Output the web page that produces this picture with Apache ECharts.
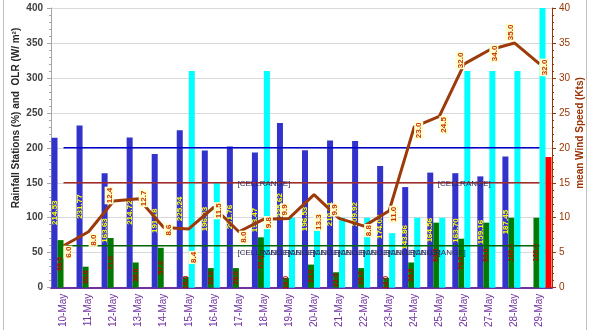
<!DOCTYPE html>
<html>
<head>
<meta charset="utf-8">
<script src="https://cdn.jsdelivr.net/npm/echarts@6/dist/echarts.min.js"></script>
<style>
  html, body { margin: 0; padding: 0; background: #ffffff; }
  #chart { width: 590px; height: 330px; }
</style>
</head>
<body>
<div id="chart"></div>
<script>
// Daily values, 10-May to 29-May
const categories = ['10-May','11-May','12-May','13-May','14-May','15-May','16-May','17-May','18-May','19-May',
                    '20-May','21-May','22-May','23-May','24-May','25-May','26-May','27-May','28-May','29-May'];
// OLR (W/m2)
const olr = [214.53, 231.77, 163.63, 214.72, 191.18, 225.24, 196.03, 201.76, 193.47, 235.62,
             196.53, 210.61, 209.92, 174.03, 143.86, 164.56, 163.70, 159.16, 187.45, null];
// Rainfall stations (%)
const rainStations = [68, 30, 71, 36, 57, 15, 28, 28, 72, 14, 33, 22, 28, 14, 36, 93, 70, 93, 100, 100];
// Second rainfall series (%)
const rainCyan = [0, 0, 0, 0, 0, 310, 150, 0, 310, 100, 100, 100, 100, 78, 100, 100, 310, 310, 310, 420];
// Red series
const redVals = [0, 0, 0, 0, 0, 0, 0, 0, 0, 0, 0, 0, 0, 0, 0, 0, 0, 0, 0, 187];
// Mean wind speed (Kts)
const wind = [6.0, 8.0, 12.4, 12.7, 8.6, 8.4, 11.5, 8.0, 9.8, 9.9,
              13.3, 9.9, 8.8, 11.0, 23.0, 24.5, 32.0, 34.0, 35.0, 32.0];
// Reference levels
const olrRef  = [200,200,200,200,200,200,200,200,200,200,200,200,200,200,200,200,200,200,200,200];
const redRef  = [150,150,150,150,150,150,150,150,150,150,150,150,150,150,150,150,150,150,150,150];
const rainRef = [60,60,60,60,60,60,60,60,60,60,60,60,60,60,60,60,60,60,60,60];
// Tick values
const leftTicks = [0, 400, 50];
const rightTicks = [0, 40, 5];

// label placement of the wind speed values
const windLabelPos  = ['bottom','bottom','top','bottom','bottom','bottom','bottom','bottom','bottom','top',
                       'bottom','top','bottom','bottom','bottom','bottom','top','bottom','top','bottom'];
const windLabelDist = [6, 8, 5, 5, 2, 28, 3, 5, 3, 8, 27, 8, 4, 5, 3, 8, 3, 5, 8, 5];
const windLabelDx   = [0, 0, 0, 6, 0, 0, 0, 0, 0, 0, 0, 0, 0, 2, 0, 0, 0, 2, 2, 2];

const chart = echarts.init(document.getElementById('chart'), null, { renderer: 'canvas' });

const cellText = { show: true, formatter: '[CELLRANGE]', fontSize: 8, color: '#2a2a5a',
                   fontFamily: 'Liberation Sans' };

const rainRefData = rainRef.map((v, i) => (i >= 8 && i <= 15)
  ? { value: v, label: Object.assign({ position: 'bottom', distance: 3 }, cellText) } : v);
const redRefData = redRef.map((v, i) => (i === 8 || i === 16)
  ? { value: v, label: Object.assign({ position: 'top', distance: -6 }, cellText) } : v);

const windData = wind.map((v, i) => ({
  value: v,
  label: { position: windLabelPos[i], distance: windLabelDist[i], offset: [windLabelDx[i], 0] }
}));

// invisible point symbols so that point labels can be attached to line series
const hiddenSymbol = { symbol: 'circle', symbolSize: 1, showSymbol: true,
                       itemStyle: { color: 'rgba(0,0,0,0)', borderWidth: 0 } };

const option = {
  animation: false,
  backgroundColor: '#ffffff',
  textStyle: { fontFamily: 'Liberation Sans' },
  grid: { left: 51, right: 38, top: 8, bottom: 37, containLabel: false },
  xAxis: {
    type: 'category',
    data: categories,
    axisLine: { lineStyle: { color: '#7030A0', width: 2 } },
    axisTick: { show: false },
    axisLabel: { rotate: 90, color: '#7030A0', fontSize: 10, margin: 6, fontFamily: 'Liberation Sans' }
  },
  yAxis: [
    {
      type: 'value', min: leftTicks[0], max: leftTicks[1], interval: leftTicks[2],
      axisLine: { show: true, lineStyle: { color: '#a6a6a6', width: 1 } },
      axisTick: { show: true, length: 4, lineStyle: { color: '#a6a6a6' } },
      minorTick: { show: true, splitNumber: 5, length: 2, lineStyle: { color: '#a6a6a6' } },
      axisLabel: { color: '#404040', fontSize: 10, fontWeight: 'bold', margin: 8 },
      splitLine: { show: true, lineStyle: { color: '#d9d9d9', width: 1 } }
    },
    {
      type: 'value', min: rightTicks[0], max: rightTicks[1], interval: rightTicks[2],
      axisLine: { show: true, lineStyle: { color: '#993300', width: 1 } },
      axisTick: { show: true, length: 4, lineStyle: { color: '#993300' } },
      minorTick: { show: true, splitNumber: 5, length: 2, lineStyle: { color: '#993300' } },
      axisLabel: { color: '#993300', fontSize: 10, margin: 7 },
      splitLine: { show: false }
    }
  ],
  series: [
    {
      name: 'OLR', type: 'bar', data: olr, barGap: '0%', barCategoryGap: '4%',
      itemStyle: { color: '#3333cc' },
      label: { show: true, position: 'inside', rotate: 90, color: '#ffff00', fontSize: 8, fontWeight: 'bold',
               formatter: p => p.value == null ? '' : p.value.toFixed(2) }
    },
    {
      name: 'Rainfall Stations', type: 'bar', data: rainStations,
      itemStyle: { color: '#007a00' },
      label: { show: true, position: 'inside', rotate: 90, color: '#c00000', fontSize: 7, fontWeight: 'bold',
               formatter: p => p.value.toFixed(1) }
    },
    {
      name: 'Rainfall', type: 'bar', data: rainCyan,
      itemStyle: { color: '#00ffff' }
    },
    {
      name: 'Red', type: 'bar', data: redVals,
      itemStyle: { color: '#ff0000' }
    },
    Object.assign({
      name: 'OLR normal', type: 'line', data: olrRef, z: 4,
      lineStyle: { color: '#0000cc', width: 1.5 }
    }, hiddenSymbol),
    Object.assign({
      name: 'Level 150', type: 'line', data: redRefData, z: 4,
      lineStyle: { color: '#a52a2a', width: 1.5 }, label: { show: false }
    }, hiddenSymbol),
    Object.assign({
      name: 'Level 60', type: 'line', data: rainRefData, z: 4,
      lineStyle: { color: '#006400', width: 1.5 }, label: { show: false }
    }, hiddenSymbol),
    Object.assign({
      name: 'mean Wind Speed', type: 'line', yAxisIndex: 1, data: windData, z: 6,
      lineStyle: { color: '#9c3a0a', width: 3 },
      label: { show: true, rotate: 90, color: '#cc3300', fontSize: 8, fontWeight: 'bold',
               backgroundColor: '#ffffcc', padding: [1, 1, 0, 1],
               formatter: p => p.value.toFixed(1) }
    }, hiddenSymbol)
  ],
  graphic: [
    {
      type: 'rect', silent: true, z: -1,
      shape: { x: 3.5, y: -2, width: 583, height: 334 },
      style: { fill: 'none', stroke: '#bfbfbf', lineWidth: 1 }
    },
    {
      type: 'text', x: 16, y: 118, rotation: Math.PI / 2,
      style: { text: 'Rainfall Stations (%) and  OLR (W/ m²)', fill: '#262626',
               font: 'bold 10px "Liberation Sans"', align: 'center', verticalAlign: 'middle' }
    },
    {
      type: 'text', x: 580, y: 133, rotation: Math.PI / 2,
      style: { text: 'mean Wind Speed (Kts)', fill: '#993300',
               font: 'bold 10px "Liberation Sans"', align: 'center', verticalAlign: 'middle' }
    }
  ]
};

chart.setOption(option);
</script>
</body>
</html>
